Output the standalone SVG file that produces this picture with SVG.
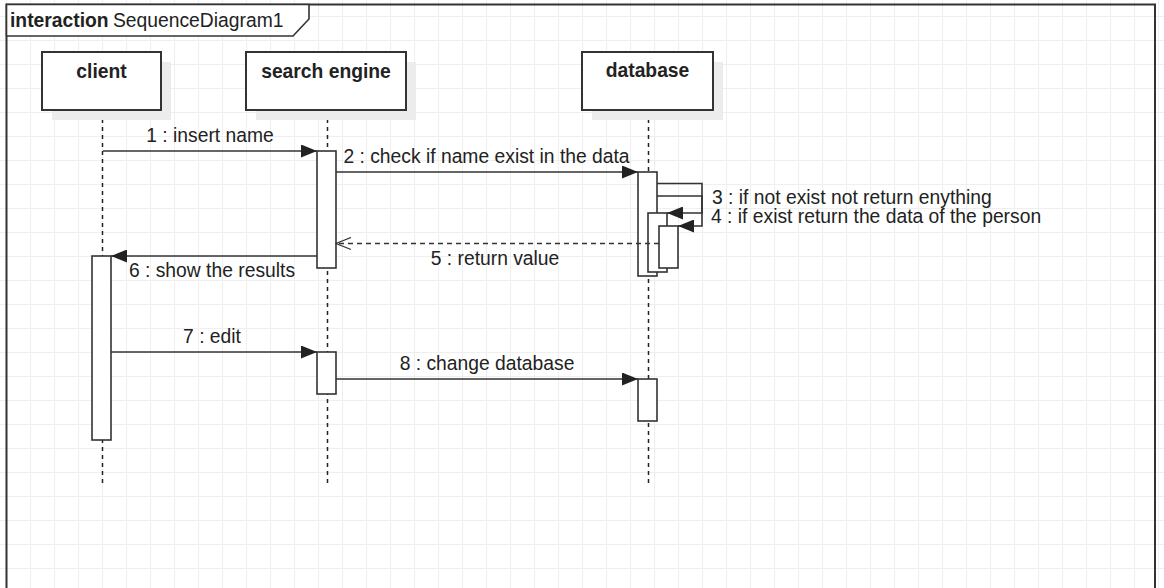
<svg xmlns="http://www.w3.org/2000/svg" width="1164" height="588" viewBox="0 0 1164 588">
  <defs>
    <pattern id="grid" x="6" y="16" width="24" height="24" patternUnits="userSpaceOnUse">
      <path d="M0,0.5 H24 M0.5,0 V24" fill="none" stroke="#efefef" stroke-width="1"/>
    </pattern>
    <marker id="filled" viewBox="0 0 16 13" refX="16" refY="6.5" markerWidth="16" markerHeight="13" markerUnits="userSpaceOnUse" orient="auto">
      <path d="M0,0 L16,6.5 L0,13 Z" fill="#222"/>
    </marker>
    <marker id="open" viewBox="-1 -1 17 14" refX="15" refY="6" markerWidth="17" markerHeight="14" markerUnits="userSpaceOnUse" orient="auto">
      <path d="M0,0 L15,6 L0,12" fill="none" stroke="#333" stroke-width="1.3"/>
    </marker>
    <style>
      text { font-family: "Liberation Sans", Arial, sans-serif; font-size: 19.3px; fill: #222; }
      .bold { font-weight: bold; }
      .mid { text-anchor: middle; }
      .head { fill: #fff; stroke: #333; stroke-width: 2; }
      .shadow { fill: #ececec; stroke: none; }
      .lifeline { stroke: #222; stroke-width: 1.5; stroke-dasharray: 4 4; fill: none; }
      .act { fill: #fff; stroke: #333; stroke-width: 1.6; }
      .msg { fill: none; stroke: #333; stroke-width: 1.6; }
      .sync { marker-end: url(#filled); }
      .reply { stroke-dasharray: 5 4; marker-end: url(#open); }
    </style>
  </defs>

  <rect x="0" y="0" width="1164" height="588" fill="#fff"/>
  <rect x="0" y="0" width="1164" height="588" fill="url(#grid)"/>

  <g id="frame">
    <rect x="6.5" y="4.5" width="1148.5" height="640" fill="none" stroke="#333" stroke-width="2"/>
    <polygon points="6.5,4.5 309,4.5 309,19 293,36 6.5,36" fill="#fff" stroke="#333" stroke-width="1.6"/>
    <text x="10" y="27"><tspan class="bold">interaction</tspan><tspan x="113">SequenceDiagram1</tspan></text>
  </g>

  <g id="lifelines">
    <line class="lifeline" x1="102.5" y1="111" x2="102.5" y2="484"/>
    <line class="lifeline" x1="327.5" y1="111" x2="327.5" y2="484"/>
    <line class="lifeline" x1="648.5" y1="111" x2="648.5" y2="484"/>
  </g>

  <g id="client">
    <rect class="shadow" x="52" y="62" width="119" height="58"/>
    <rect class="head" x="42" y="52" width="119" height="58"/>
    <text class="bold mid" x="101.5" y="78">client</text>
  </g>
  <g id="search-engine">
    <rect class="shadow" x="256" y="62" width="160" height="58"/>
    <rect class="head" x="246" y="52" width="160" height="58"/>
    <text class="bold mid" x="326" y="78">search engine</text>
  </g>
  <g id="database">
    <rect class="shadow" x="592" y="62" width="131" height="58"/>
    <rect class="head" x="582" y="52" width="131" height="58"/>
    <text class="bold mid" x="647.5" y="77">database</text>
  </g>

  <g id="activations">
    <rect id="act-client" class="act" x="92" y="256" width="19" height="184"/>
    <rect id="act-se-1" class="act" x="317" y="151" width="19" height="117"/>
    <rect id="act-se-2" class="act" x="317" y="352" width="19" height="42"/>
    <rect id="act-db-1" class="act" x="638" y="172" width="19" height="104"/>
    <rect id="act-db-2" class="act" x="648" y="213" width="19" height="59"/>
    <rect id="act-db-3" class="act" x="659" y="226" width="19" height="42"/>
    <rect id="act-db-4" class="act" x="638" y="379" width="19" height="42"/>
  </g>

  <g id="connectors">
    <line class="msg sync" x1="103" y1="151" x2="317" y2="151"/>
    <line class="msg sync" x1="336" y1="172" x2="638" y2="172"/>
    <path class="msg sync" d="M657,183.5 H702 V213 H667"/>
    <path class="msg sync" d="M657,196 H702 V226 H678"/>
    <line class="msg reply" x1="659" y1="243.5" x2="336" y2="243.5"/>
    <line class="msg sync" x1="317" y1="256" x2="111" y2="256"/>
    <line class="msg sync" x1="111" y1="352" x2="317" y2="352"/>
    <line class="msg sync" x1="336" y1="379" x2="638" y2="379"/>
  </g>

  <g id="labels">
    <text class="mid" x="210" y="142">1 : insert name</text>
    <text class="mid" x="486.5" y="163">2 : check if name exist in the data</text>
    <text x="712" y="204">3 : if not exist not return enything</text>
    <text x="711" y="222.5">4 : if exist return the data of the person</text>
    <text class="mid" x="495" y="264.5">5 : return value</text>
    <text class="mid" x="212" y="277">6 : show the results</text>
    <text class="mid" x="212" y="343">7 : edit</text>
    <text class="mid" x="487" y="370">8 : change database</text>
  </g>
</svg>
